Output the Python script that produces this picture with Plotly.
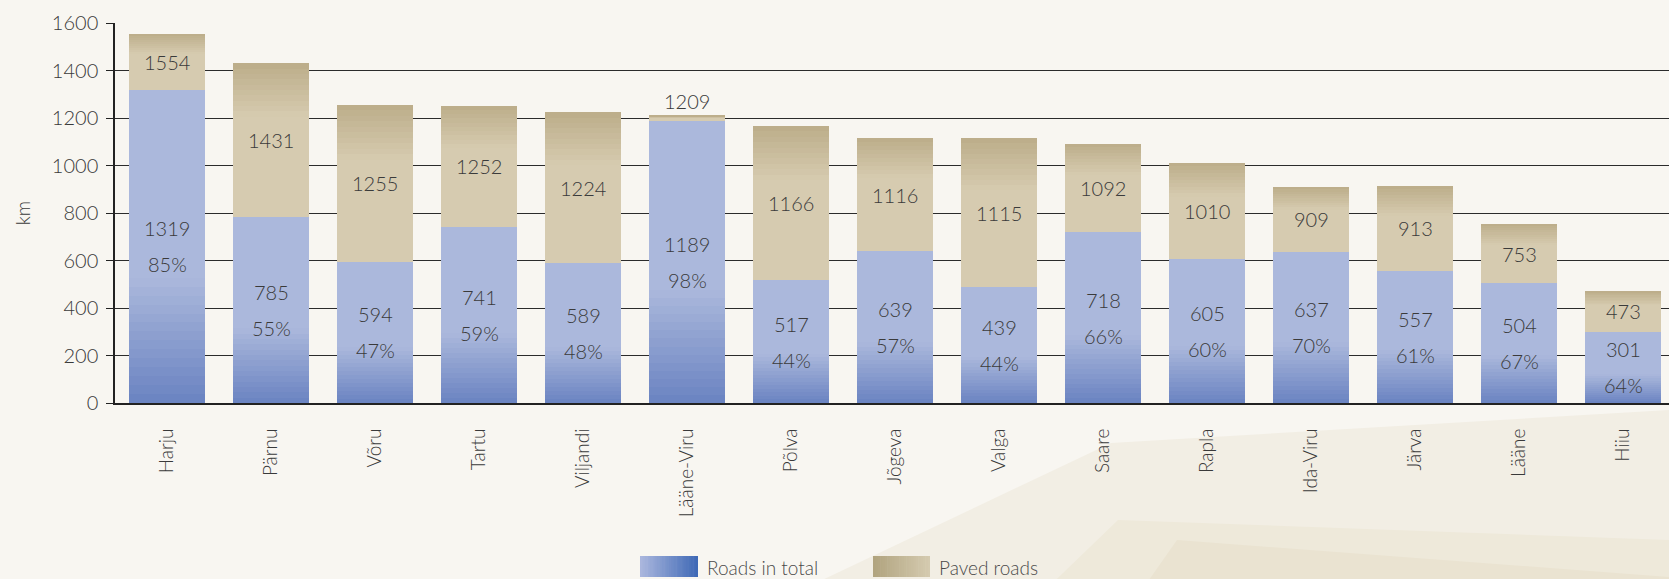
import numpy as np
import plotly.graph_objects as go

# ---------------- data ----------------
counties = ["Harju", "Pärnu", "Võru", "Tartu", "Viljandi", "Lääne-Viru", "Põlva",
            "Jõgeva", "Valga", "Saare", "Rapla", "Ida-Viru", "Järva", "Lääne", "Hiiu"]
roads_total = [1554, 1431, 1255, 1252, 1224, 1209, 1166, 1116, 1115, 1092, 1010, 909, 913, 753, 473]
# bar heights as drawn in the picture (Valga is drawn at ~489 although labelled 439)
paved_roads = [1319, 785, 594, 741, 589, 1189, 517, 639, 489, 718, 605, 637, 557, 504, 301]
# numbers printed on the blue part
paved_labels = ["1319", "785", "594", "741", "589", "1189", "517", "639", "439", "718",
                "605", "637", "557", "504", "301"]
paved_pct = [85, 55, 47, 59, 48, 98, 44, 57, 44, 66, 60, 70, 61, 67, 64]
y_ticks = [0, 200, 400, 600, 800, 1000, 1200, 1400, 1600]

# ---------------- style ----------------
W, H = 1669, 579
ML, MR, MT, MB = 115, 0, 23, 176
FONT = "Lato"
TXT = "#3a3a3a"
BLUE_DARK = np.array([106, 131, 193])
BLUE_LIGHT = np.array([171, 184, 220])
TAN_DARK = np.array([188, 173, 137])
TAN_LIGHT = np.array([214, 203, 176])


def rgb(c):
    c = np.clip(np.round(c), 0, 255).astype(int)
    return f"rgb({c[0]},{c[1]},{c[2]})"


paved = np.array(paved_roads, dtype=float)
total = np.array(roads_total, dtype=float)
upper = total - paved

fig = go.Figure()

# blue part (gradient at the bottom, built from slices of each bar)
NB, GB = 14, 0.4
for i in range(NB):
    t = (i + 0.5) / NB
    fig.add_trace(go.Bar(x=counties, y=paved * GB / NB, marker_color=rgb(BLUE_DARK + (BLUE_LIGHT - BLUE_DARK) * t),
                         marker_line_width=0, hoverinfo="skip", showlegend=False))
fig.add_trace(go.Bar(x=counties, y=paved * (1 - GB), marker_color=rgb(BLUE_LIGHT),
                     marker_line_width=0, hoverinfo="skip", showlegend=False))

# tan part (gradient at the top)
NT, GT = 10, 0.35
fig.add_trace(go.Bar(x=counties, y=upper * (1 - GT), marker_color=rgb(TAN_LIGHT),
                     marker_line_width=0, hoverinfo="skip", showlegend=False))
for i in range(NT):
    t = (i + 0.5) / NT
    fig.add_trace(go.Bar(x=counties, y=upper * GT / NT, marker_color=rgb(TAN_LIGHT + (TAN_DARK - TAN_LIGHT) * t),
                         marker_line_width=0, hoverinfo="skip", showlegend=False))

LBL = dict(size=20, color=TXT, family=FONT, weight=300)
annotations = []
for c, p, pl, tt, pc in zip(counties, paved_roads, paved_labels, roads_total, paved_pct):
    annotations.append(dict(x=c, y=p / 2, yshift=18, text=pl, showarrow=False, font=LBL))
    annotations.append(dict(x=c, y=p / 2, yshift=-18, text=f"{pc}%", showarrow=False, font=LBL))
    if tt - p >= 100:
        annotations.append(dict(x=c, y=(tt + p) / 2, text=str(tt), showarrow=False, font=LBL))
    else:
        annotations.append(dict(x=c, y=tt, yanchor="bottom", yshift=1, text=str(tt), showarrow=False, font=LBL))

# ----- pixel -> paper helpers for layout decorations -----
PW = W - ML - MR
PH = H - MT - MB


def px(x):
    return (x - ML) / PW


def py(y):
    return (H - MB - y) / PH


shapes = []


def poly(points, color):
    path = "M " + " L ".join(f"{px(a):.5f},{py(b):.5f}" for a, b in points) + " Z"
    return dict(type="path", xref="paper", yref="paper", path=path, fillcolor=color,
                line=dict(width=0), layer="below")


# background decoration
shapes.append(poly([(780, 600), (1111, 443), (1669, 410), (1669, 600)], "#f2eee4"))
shapes.append(poly([(1035, 600), (1118, 520), (1669, 540), (1669, 600)], "#eee9da"))
shapes.append(poly([(1135, 600), (1177, 540), (1669, 577), (1669, 600)], "#eae3d1"))

# legend boxes with horizontal gradients
LEG_BLUE_L = np.array([172, 184, 222])
LEG_BLUE_R = np.array([62, 104, 181])
LEG_TAN_L = np.array([176, 163, 126])
LEG_TAN_R = np.array([213, 203, 176])


def grad_box(x0, x1, y0, y1, cl, cr, n=24):
    out = []
    for i in range(n):
        a = x0 + (x1 - x0) * i / n
        b = x0 + (x1 - x0) * (i + 1) / n + 0.6
        t = (i + 0.5) / n
        out.append(dict(type="rect", xref="paper", yref="paper", x0=px(a), x1=px(min(b, x1)),
                        y0=py(y1), y1=py(y0), fillcolor=rgb(cl + (cr - cl) * t), line=dict(width=0)))
    return out


shapes += grad_box(640, 698, 556, 577, LEG_BLUE_L, LEG_BLUE_R)
shapes += grad_box(873, 930, 556, 577, LEG_TAN_L, LEG_TAN_R)
LEGF = dict(size=19, color="#4a4a4a", family=FONT, weight=300)
annotations.append(dict(xref="paper", yref="paper", x=px(705), y=py(567), xanchor="left", yanchor="middle",
                        text="Roads in total", showarrow=False, font=LEGF))
annotations.append(dict(xref="paper", yref="paper", x=px(937), y=py(567), xanchor="left", yanchor="middle",
                        text="Paved roads", showarrow=False, font=LEGF))

fig.update_layout(
    width=W, height=H,
    margin=dict(l=ML, r=MR, t=MT, b=MB),
    barmode="stack", bargap=0.27,
    paper_bgcolor="#f8f6f1", plot_bgcolor="rgba(0,0,0,0)",
    showlegend=False,
    font=dict(family=FONT, size=20, color=TXT, weight=300),
    shapes=shapes, annotations=annotations,
    xaxis=dict(range=[-0.5, -0.5 + PW / 104.0], tickangle=-90, showline=True, linecolor="#222222",
               linewidth=2, ticks="", showgrid=False, ticklabelstandoff=16,
               tickfont=dict(size=19, color=TXT, family=FONT, weight=300)),
    yaxis=dict(range=[0, 1600], tickvals=y_ticks, showgrid=True, gridcolor="#2b2b2b", gridwidth=1.2,
               showline=True, linecolor="#222222", linewidth=1.5, ticks="outside", ticklen=7,
               tickcolor="#222222", zeroline=False, ticklabelstandoff=4,
               tickfont=dict(size=20, color=TXT, family=FONT, weight=300),
               title=dict(text="km", standoff=16, font=dict(size=19, color=TXT, family=FONT, weight=300))),
)

fig.write_html("out.html")
